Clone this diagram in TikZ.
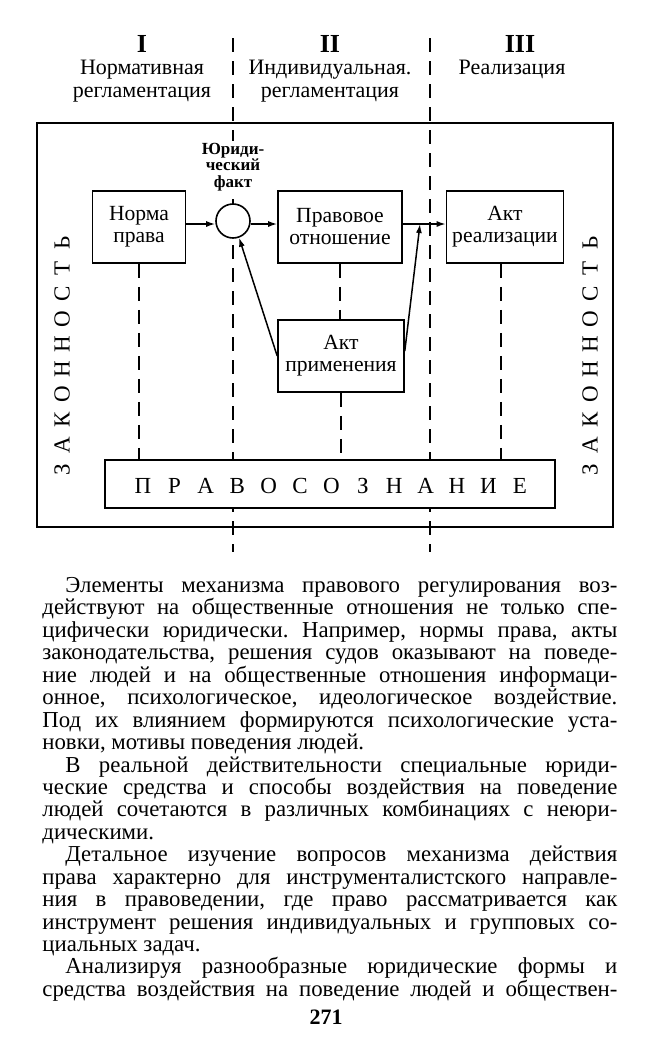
\documentclass[tikz,border=0pt]{standalone}
\usepackage{fontspec}
\setmainfont{Liberation Serif}
\usetikzlibrary{arrows.meta, calc, positioning}

\tikzset{
  box/.style={draw, line width=0.8pt, align=center, fill=white, inner sep=2pt,
    font=\fontsize{10.8}{11}\selectfont},
  guide/.style={line width=0.8pt, dash pattern=on 7pt off 4.5pt},
  flow/.style={line width=0.75pt, -{Latex[length=4.5pt,width=3pt]}},
  letter/.style={font=\fontsize{11.5}{11.5}\selectfont, inner sep=0pt},
  head/.style={align=center, font=\fontsize{11}{11.5}\selectfont, inner sep=0pt},
  numeral/.style={font=\bfseries\fontsize{13}{13}\selectfont, inner sep=0pt}
}

\begin{document}
\begin{tikzpicture}[x=0.5pt, y=-0.5pt]
\useasboundingbox (0,0) rectangle (653,1061);

% headings of the three stages
\node[numeral] (n1) at (142,44) {I};
\node[numeral] (n2) at (330,44) {II};
\node[numeral] (n3) at (520,44) {III};
\node[head, anchor=north] (h1) at (142,60) {Нормативная\\регламентация};
\node[head, anchor=north] (h2) at (330,60) {Индивидуальная.\\регламентация};
\node[head, anchor=north] (h3) at (512,60) {Реализация};

% stage borders
\coordinate (g1top) at (233,38);
\coordinate (g1bot) at (233,552);
\coordinate (g2top) at (430,38);
\coordinate (g2bot) at (430,552);
\draw[guide] (g1top) -- (g1bot);
\draw[guide] (g2top) -- (g2bot);

% outer frame
\draw[line width=1pt] (37,123) rectangle (613,527);

% elements
\node[font=\bfseries\fontsize{8.5}{8.4}\selectfont, align=center, fill=white, inner sep=1pt] (factlbl) at (233,167) {Юриди-\\ческий\\факт};
\node[box, minimum width=46.5pt, minimum height=36pt] (norm) at (139,227) {Норма\\права};
\node[circle, draw, line width=0.8pt, fill=white, minimum size=17pt, inner sep=0pt] (fact) at (233,221) {};
\node[box, minimum width=62pt, minimum height=36pt] (rel) at (340,227) {Правовое\\отношение};
\node[box, minimum width=58.5pt, minimum height=36pt] (real) at (505,227) {Акт\\реализации};
\node[box, minimum width=63pt, minimum height=36pt] (appl) at (341,356) {Акт\\применения};
\node[box, minimum width=225pt, minimum height=24pt] (consc) at (330,484) {};
\foreach \ch [count=\i from 0] in {П,Р,А,В,О,С,О,З,Н,А,Н,И,Е}
  \node[letter] (cl\i) at ({143+31.4*\i},486) {\ch};

% vertical word on both sides
\foreach \ch [count=\i from 0] in {З,А,К,О,Н,Н,О,С,Т,Ь} {
  \node[letter, rotate=90] (zl\i) at (62,{470-25.2*\i}) {\ch};
  \node[letter, rotate=90] (zr\i) at (590,{470-25.2*\i}) {\ch};
}

% dashed links to consciousness
\draw[guide] (norm.south) -- (norm.south |- consc.north);
\draw[guide] (rel.south) -- (rel.south |- appl.north);
\draw[guide] (appl.south) -- (appl.south |- consc.north);
\draw[guide] ($(real.south)+(-4,0)$) -- ($(real.south |- consc.north)+(-4,0)$);

% flow
\coordinate (lvl) at (0,224);
\coordinate (join) at (420,224);
\draw[flow] (norm.east |- lvl) -- (fact.west |- lvl);
\draw[flow] (fact.east |- lvl) -- (rel.west |- lvl);
\draw[flow] (rel.east |- lvl) -- (real.west |- lvl);
\draw[flow] (appl.west) -- (fact.290);
\draw[flow] ($(appl.east)+(0,-5)$) -- (join);

% text of the page
\node[anchor=north west, text width=287.5pt, inner sep=0pt, align=justify,
  font=\fontsize{11.4}{11.22}\selectfont] (body) at (42,577) {%
\tolerance=10000\hbadness=10000\frenchspacing
\noindent\hspace*{11.5pt}Элементы механизма правового регулирования воз-\linebreak
действуют на общественные отношения не только спе-\linebreak
цифически юридически. Например, нормы права, акты\linebreak
законодательства, решения судов оказывают на поведе-\linebreak
ние людей и на общественные отношения информаци-\linebreak
онное, психологическое, идеологическое воздействие.\linebreak
Под их влиянием формируются психологические уста-\linebreak
новки, мотивы поведения людей.\par
\noindent\hspace*{11.5pt}В реальной действительности специальные юриди-\linebreak
ческие средства и способы воздействия на поведение\linebreak
людей сочетаются в различных комбинациях с неюри-\linebreak
дическими.\par
\noindent\hspace*{11.5pt}Детальное изучение вопросов механизма действия\linebreak
права характерно для инструменталистского направле-\linebreak
ния в правоведении, где право рассматривается как\linebreak
инструмент решения индивидуальных и групповых со-\linebreak
циальных задач.\par
\noindent\hspace*{11.5pt}Анализируя разнообразные юридические формы и\linebreak
средства воздействия на поведение людей и обществен-{\parfillskip=0pt\par}};
\node[font=\bfseries\fontsize{11}{11}\selectfont] (page) at (326,1017) {271};
\end{tikzpicture}
\end{document}
